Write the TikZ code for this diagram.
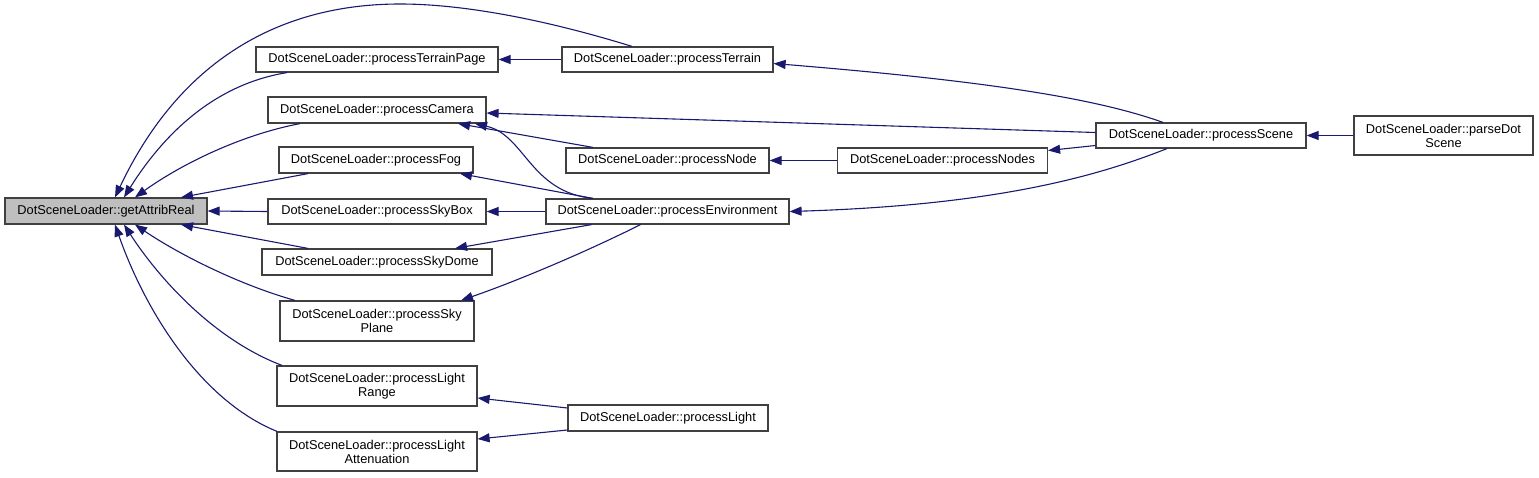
\documentclass[tikz,border=0pt]{standalone}
\usepackage{fontspec}
\setmainfont{Liberation Sans}
\usetikzlibrary{arrows.meta}
\definecolor{edgeblue}{HTML}{191970}
\definecolor{boxline}{HTML}{404040}
\definecolor{boxgray}{HTML}{BFBFBF}
\begin{document}
\begin{tikzpicture}[x=1pt,y=-1pt,
  fn/.style={draw=boxline,line width=1.2pt,fill=white,inner sep=0pt,align=center,
    font=\fontsize{12.8}{14}\selectfont},
  edge/.style={draw=edgeblue,line width=1.1pt,-{Triangle[length=12pt,width=9pt]}}]
\useasboundingbox (0,0) rectangle (1539,477);
% nodes
\node[fn,fill=boxgray,minimum width=202pt,minimum height=26pt] (gar) at (106,211) {DotSceneLoader::getAttribReal};
\node[fn,minimum width=242pt,minimum height=25pt] (tpage) at (377,59.5) {DotSceneLoader::processTerrainPage};
\node[fn,minimum width=218pt,minimum height=26pt] (cam) at (377,110) {DotSceneLoader::processCamera};
\node[fn,minimum width=194pt,minimum height=26pt] (fog) at (376,160) {DotSceneLoader::processFog};
\node[fn,minimum width=218pt,minimum height=25pt] (skybox) at (377,211.5) {DotSceneLoader::processSkyBox};
\node[fn,minimum width=230pt,minimum height=26pt] (skydome) at (377,262) {DotSceneLoader::processSkyDome};
\node[fn,minimum width=194pt,minimum height=40pt] (skyplane) at (377,321) {DotSceneLoader::processSky\\Plane};
\node[fn,minimum width=200pt,minimum height=40pt] (lrange) at (377,386) {DotSceneLoader::processLight\\Range};
\node[fn,minimum width=200pt,minimum height=39pt] (latt) at (377,451.5) {DotSceneLoader::processLight\\Attenuation};
\node[fn,minimum width=211pt,minimum height=25pt] (terrain) at (667.5,59.5) {DotSceneLoader::processTerrain};
\node[fn,minimum width=203pt,minimum height=25pt] (pnode) at (667.5,160.5) {DotSceneLoader::processNode};
\node[fn,minimum width=243pt,minimum height=25pt] (env) at (667.5,211.5) {DotSceneLoader::processEnvironment};
\node[fn,minimum width=200pt,minimum height=26pt] (light) at (668,418) {DotSceneLoader::processLight};
\node[fn,minimum width=210pt,minimum height=25pt] (nodes) at (942.5,160.5) {DotSceneLoader::processNodes};
\node[fn,minimum width=210pt,minimum height=25pt] (scene) at (1201,135.5) {DotSceneLoader::processScene};
\node[fn,minimum width=179pt,minimum height=39pt] (parse) at (1443.5,135.5) {DotSceneLoader::parseDot\\Scene};
% edges into getAttribReal
\draw[edge] ([xshift=-35.5pt]terrain.north) .. controls (540,18) and (460,4) .. (400,4)
  .. controls (280,4) and (180,60) .. ([xshift=9pt]gar.north);
\draw[edge] ([xshift=-90pt]tpage.south) .. controls (210,85) and (160,140) .. ([xshift=18pt]gar.north);
\draw[edge] ([xshift=-77pt]cam.south) .. controls (240,135) and (180,165) .. ([xshift=29pt]gar.north);
\draw[edge] ([xshift=-68pt]fog.south) -- ([xshift=75pt]gar.north);
\draw[edge] (skybox.west) -- (gar.east);
\draw[edge] ([xshift=-69pt]skydome.north) -- ([xshift=75pt]gar.south);
\draw[edge] ([xshift=-82pt]skyplane.north) .. controls (240,285) and (180,255) .. ([xshift=29pt]gar.south);
\draw[edge] ([xshift=-95pt]lrange.north) .. controls (215,340) and (160,280) .. ([xshift=18pt]gar.south);
\draw[edge] ([xshift=-100pt]latt.north) .. controls (200,400) and (145,310) .. ([xshift=9pt]gar.south);
% second level
\draw[edge] (terrain.west) -- (tpage.east);
\draw[edge] ([xshift=-38pt]scene.north) .. controls (1100,100) and (1000,82) .. ([yshift=-4pt]terrain.east);
\draw[edge] ([yshift=3pt]scene.west) -- ([yshift=-3pt]cam.east);
\draw[edge] ([xshift=-74.5pt]pnode.north) -- ([xshift=81pt]cam.south);
\draw[edge] ([xshift=-74.5pt]env.north) .. controls (530,192) and (525,135) .. ([xshift=98pt]cam.south);
\draw[edge] ([xshift=-74.5pt]env.north) -- ([xshift=84pt]fog.south);
\draw[edge] (env.west) -- (skybox.east);
\draw[edge] ([xshift=-76pt]env.south) -- ([xshift=78pt]skydome.north);
\draw[edge] ([xshift=-27pt]env.south) .. controls (590,250) and (520,280) .. ([xshift=84pt]skyplane.north);
\draw[edge] (nodes.west) -- (pnode.east);
\draw[edge] ([yshift=-10pt]scene.west) -- ([yshift=10pt]nodes.east);
\draw[edge] ([xshift=-34pt]scene.south) .. controls (1100,175) and (1000,205) .. (env.east);
\draw[edge] (parse.west) -- (scene.east);
\draw[edge] ([yshift=10pt]light.west) -- ([yshift=-12pt]lrange.east);
\draw[edge] ([yshift=-12pt]light.west) -- ([yshift=12.5pt]latt.east);
\end{tikzpicture}
\end{document}
